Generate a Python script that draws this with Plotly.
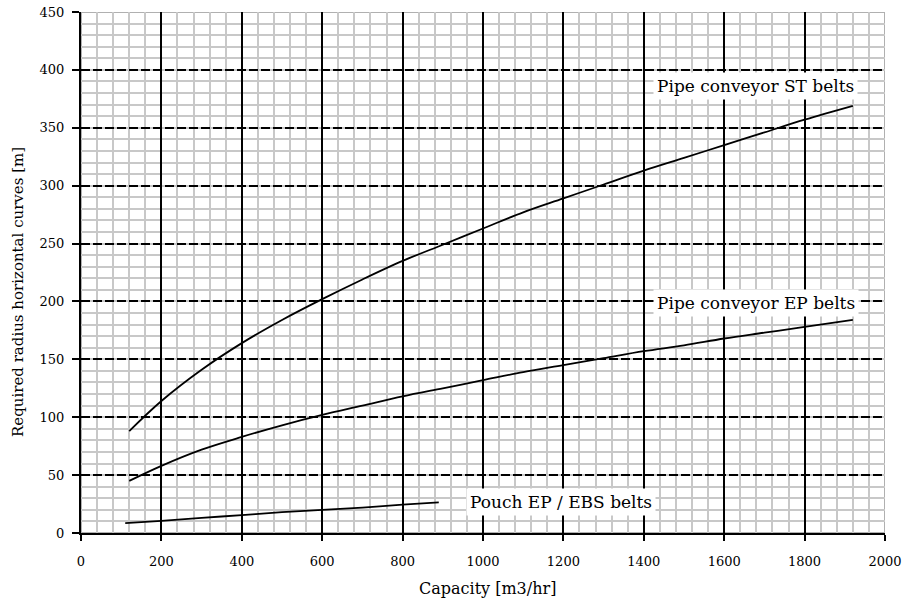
import plotly.graph_objects as go

# Data
capacity_st = [120, 200, 300, 400, 500, 600, 700, 800, 900, 1000, 1100, 1200, 1300, 1400, 1500, 1600, 1700, 1800, 1920]
radius_st = [88, 114, 141, 164, 184, 202, 219, 235, 249, 263, 277, 289, 301, 313, 324, 335, 346, 357, 369]

capacity_ep = [120, 200, 300, 400, 500, 600, 700, 800, 900, 1000, 1100, 1200, 1300, 1400, 1500, 1600, 1700, 1800, 1920]
radius_ep = [45, 58, 72, 83, 93, 102, 110, 118, 125, 132, 139, 145, 151, 157, 162, 168, 173, 178, 184]

capacity_pouch = [110, 200, 300, 400, 500, 600, 700, 800, 890]
radius_pouch = [8.6, 10.5, 13, 15.5, 18, 20, 22, 24.5, 26.5]

series_labels = ["Pipe conveyor ST belts", "Pipe conveyor EP belts", "Pouch EP / EBS belts"]
label_x = [1679, 1679, 1195]
label_y = [386, 198.5, 26.8]

x_ticks = [0, 200, 400, 600, 800, 1000, 1200, 1400, 1600, 1800, 2000]
y_ticks = [0, 50, 100, 150, 200, 250, 300, 350, 400, 450]

x_title = "Capacity [m3/hr]"
y_title = "Required radius horizontal curves [m]"

FONT = "DejaVu Serif"

fig = go.Figure()
for xs, ys in [(capacity_st, radius_st), (capacity_ep, radius_ep), (capacity_pouch, radius_pouch)]:
    fig.add_trace(go.Scatter(x=xs, y=ys, mode="lines",
                             line=dict(color="black", width=1.8, shape="spline"),
                             showlegend=False, hoverinfo="skip"))

for txt, ax, ay in zip(series_labels, label_x, label_y):
    fig.add_annotation(x=ax, y=ay, text=txt, showarrow=False,
                       font=dict(family=FONT, size=17, color="black"),
                       bgcolor="white", borderpad=3)

# axis titles placed as paper annotations
fig.add_annotation(xref="paper", yref="paper", x=0.505, y=-0.1056, text=x_title,
                   showarrow=False, font=dict(family=FONT, size=16, color="black"),
                   xanchor="center", yanchor="middle")
fig.add_annotation(xref="paper", yref="paper", x=-0.0784, y=0.4626, text=y_title,
                   showarrow=False, textangle=-90, font=dict(family=FONT, size=15, color="black"),
                   xanchor="center", yanchor="middle")

# gray frame on top/right edges
fig.add_shape(type="rect", xref="x", yref="y", x0=0, x1=2000, y0=0, y1=450,
              line=dict(color="#b0b0b0", width=2), layer="below")

fig.update_layout(
    width=906, height=605,
    margin=dict(l=81, r=21, t=12, b=72),
    paper_bgcolor="white", plot_bgcolor="white",
    font=dict(family=FONT, size=13, color="black"),
)
fig.update_xaxes(
    range=[0, 2000], tickvals=x_ticks, ticktext=[str(v) for v in x_ticks],
    showgrid=True, gridcolor="black", gridwidth=1.6, griddash="solid",
    minor=dict(dtick=40, showgrid=True, gridcolor="#c8c8c8", gridwidth=1.6, griddash="solid"),
    showline=True, linecolor="black", linewidth=2,
    ticks="outside", ticklen=6, tickcolor="black", tickwidth=1.6,
    tickfont=dict(family=FONT, size=13), zeroline=False, automargin=False,
    ticklabelstandoff=9,
)
fig.update_yaxes(
    range=[0, 450], tickvals=y_ticks, ticktext=[str(v) for v in y_ticks],
    showgrid=True, gridcolor="black", gridwidth=1.6, griddash="9px,3px",
    minor=dict(dtick=10, showgrid=True, gridcolor="#c8c8c8", gridwidth=1.6, griddash="solid"),
    showline=True, linecolor="black", linewidth=2,
    ticks="outside", ticklen=7, tickcolor="black", tickwidth=1.6,
    tickfont=dict(family=FONT, size=13), zeroline=False, automargin=False,
    ticklabelstandoff=5,
)

fig.write_html("out.html")
